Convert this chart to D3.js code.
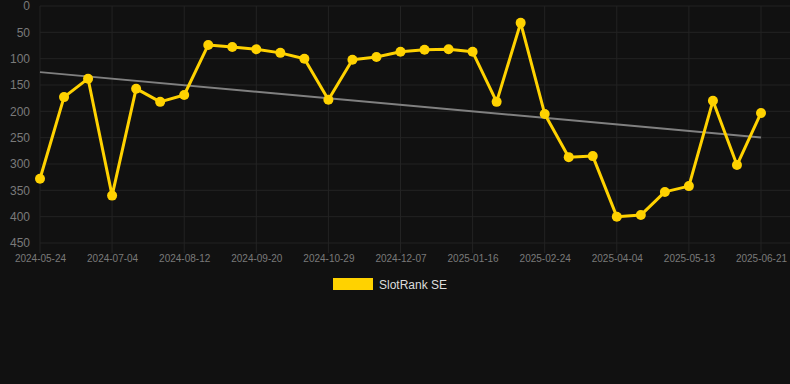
<!DOCTYPE html>
<html>
<head>
<meta charset="utf-8">
<script src="https://cdn.jsdelivr.net/npm/d3@7"></script>
<style>
html,body{margin:0;padding:0;background:#111111;}
svg{display:block;font-family:Arial,"Liberation Sans",sans-serif;}
</style>
</head>
<body>
<svg id="chart" width="790" height="384"></svg>
<script>
const dates = ["2024-05-24","2024-06-06","2024-06-19","2024-07-04","2024-07-17","2024-07-30","2024-08-12","2024-08-25","2024-09-07","2024-09-20","2024-10-03","2024-10-16","2024-10-29","2024-11-11","2024-11-24","2024-12-07","2024-12-20","2025-01-03","2025-01-16","2025-01-29","2025-02-11","2025-02-24","2025-03-09","2025-03-22","2025-04-04","2025-04-17","2025-04-30","2025-05-13","2025-05-26","2025-06-08","2025-06-21"];
const ranks = [328,173,138,360,157,182,169,74,78,82,89,100,178,102,97,87,83,82,87,182,32,205,287,285,400,397,353,342,180,302,203];
const yTicks = [0,50,100,150,200,250,300,350,400,450];
const tickLabels = ["2024-05-24","2024-07-04","2024-08-12","2024-09-20","2024-10-29","2024-12-07","2025-01-16","2025-02-24","2025-04-04","2025-05-13","2025-06-21"];
const seriesName = "SlotRank SE";

(function () {
const svg = d3.select("#chart");
const pLeft = 40, pRight = 761, pTop = 6, pBottom = 243, gridRight = 790;

const x = d3.scalePoint().domain(dates).range([pLeft, pRight]);
const y = d3.scaleLinear().domain([0, 450]).range([pTop, pBottom]);

// grid
const g = svg.append("g");
g.selectAll("line.h").data(yTicks).enter().append("line")
  .attr("x1", pLeft).attr("x2", gridRight)
  .attr("y1", d => y(d)).attr("y2", d => y(d))
  .attr("stroke", "#232323").attr("stroke-width", 1);
g.selectAll("line.v").data(tickLabels).enter().append("line")
  .attr("x1", d => x(d)).attr("x2", d => x(d))
  .attr("y1", pTop).attr("y2", pBottom + 10)
  .attr("stroke", "#232323").attr("stroke-width", 1);

// y axis labels
const yAxis = d3.axisLeft(y).tickValues(yTicks).tickSize(0).tickPadding(0);
const ya = svg.append("g").attr("transform", "translate(30,0)").call(yAxis);
ya.select(".domain").remove();
ya.selectAll("text").attr("fill", "#7a7a7a").attr("font-size", 12).attr("font-family", "Arial, 'Liberation Sans', sans-serif");

// x axis labels
const xAxis = d3.axisBottom(x).tickValues(tickLabels).tickSize(0).tickPadding(0);
const xa = svg.append("g").attr("transform", "translate(0,255)").call(xAxis);
xa.select(".domain").remove();
xa.selectAll("text").attr("fill", "#7a7a7a").attr("font-size", 10).attr("font-family", "Arial, 'Liberation Sans', sans-serif");

// trend line (least squares)
const n = ranks.length;
const idx = d3.range(n);
const mx = d3.mean(idx), my = d3.mean(ranks);
const slope = d3.sum(idx, i => (i - mx) * (ranks[i] - my)) / d3.sum(idx, i => (i - mx) ** 2);
const icpt = my - slope * mx;
svg.append("line")
  .attr("x1", x(dates[0])).attr("y1", y(icpt))
  .attr("x2", x(dates[n - 1])).attr("y2", y(icpt + slope * (n - 1)))
  .attr("stroke", "#808080").attr("stroke-width", 2);

// series line
const color = "#FFD200";
const line = d3.line().x((d, i) => x(dates[i])).y(d => y(d));
svg.append("path").datum(ranks)
  .attr("d", line).attr("fill", "none")
  .attr("stroke", color).attr("stroke-width", 3).attr("stroke-linejoin", "round");
svg.selectAll("circle.pt").data(ranks).enter().append("circle")
  .attr("cx", (d, i) => x(dates[i])).attr("cy", d => y(d))
  .attr("r", 5).attr("fill", color);

// legend
svg.append("rect").attr("x", 333).attr("y", 278).attr("width", 40).attr("height", 12).attr("fill", color);
svg.append("text").attr("x", 379).attr("y", 289).attr("fill", "#dddddd")
  .attr("font-size", 12).attr("font-family", "Arial, 'Liberation Sans', sans-serif").text(seriesName);
})();
</script>
</body>
</html>
